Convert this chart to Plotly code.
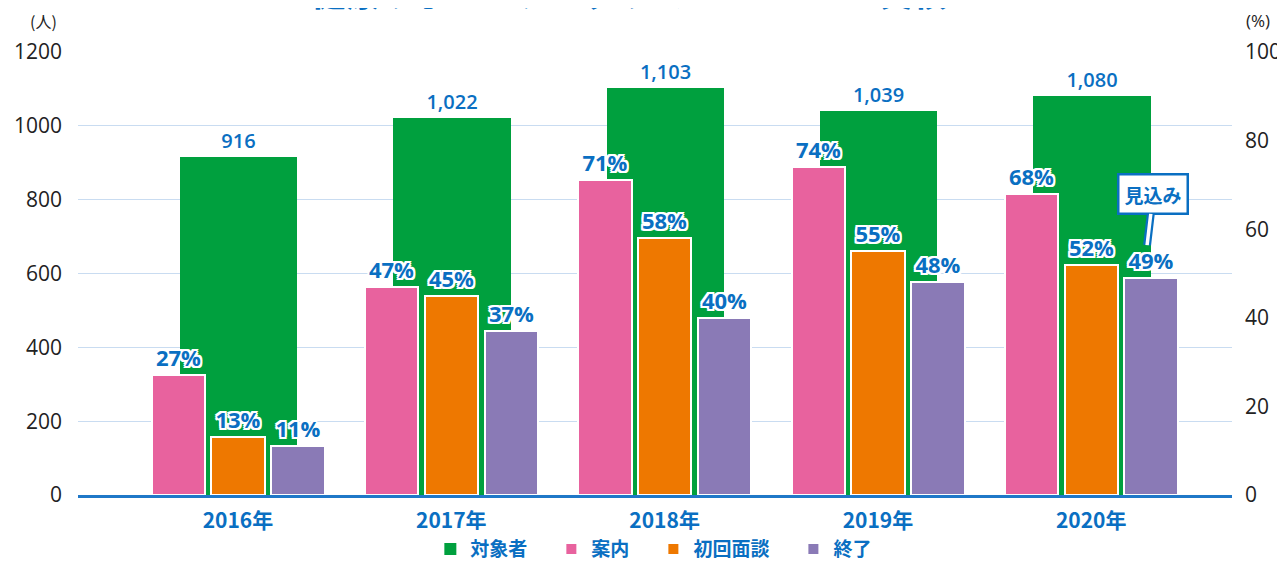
import plotly.graph_objects as go

years = ["2016年", "2017年", "2018年", "2019年", "2020年"]
targets = [916, 1022, 1103, 1039, 1080]          # 対象者 (人)
guide_pct = [27, 47, 71, 74, 68]                 # 案内 (%)
first_pct = [13, 45, 58, 55, 52]                 # 初回面談 (%)
finish_pct = [11, 37, 40, 48, 49]                # 終了 (%)
left_ticks = [0, 200, 400, 600, 800, 1000, 1200]
right_ticks = [0, 20, 40, 60, 80, 100]

xpos = list(range(len(years)))

BLUE = "#0a6fc2"
GREEN = "#00a03e"
PINK = "#e8629e"
ORANGE = "#ee7800"
PURPLE = "#8a7ab6"
JP = "Noto Sans CJK JP, Open Sans, sans-serif"
OUT = ("2px 0 0 #fff, -2px 0 0 #fff, 0 2px 0 #fff, 0 -2px 0 #fff, "
       "2px 2px 0 #fff, -2px -2px 0 #fff, 2px -2px 0 #fff, -2px 2px 0 #fff")

fig = go.Figure()

fig.add_trace(go.Bar(
    x=xpos, y=targets, name="対象者　", yaxis="y",
    width=0.55, offset=-0.272,
    marker=dict(color=GREEN, line=dict(width=0)),
    texttemplate="%{y:,}", textposition="outside", cliponaxis=False,
    textfont=dict(color=BLUE, size=20, family="Open Sans, " + JP, weight=600),
))

small = [("案内　", guide_pct, PINK, -0.404),
         ("初回面談　", first_pct, ORANGE, -0.125),
         ("終了", finish_pct, PURPLE, 0.156)]
for name, vals, col, off in small:
    fig.add_trace(go.Bar(
        x=xpos, y=vals, name=name, yaxis="y2",
        width=0.25, offset=off,
        marker=dict(color=col, line=dict(color="white", width=2)),
        texttemplate="%{y}%", textposition="outside", cliponaxis=False,
        textfont=dict(color=BLUE, size=22, family="Open Sans, " + JP, weight=700,
                      shadow=OUT),
    ))

fig.update_layout(
    width=1277, height=554,
    margin=dict(l=70, r=53, t=44, b=67, autoexpand=False),
    paper_bgcolor="white", plot_bgcolor="white",
    barmode="overlay",
    bargap=0,
    font=dict(family="Open Sans, " + JP, color="#222"),
    xaxis=dict(
        tickmode="array", tickvals=xpos, ticktext=years,
        range=[-0.75, 4.66],
        showline=True, linecolor="#1f78c8", linewidth=3,
        showgrid=False, ticks="", ticklabelstandoff=5,
        tickfont=dict(color=BLUE, size=21, family=JP, weight=600),
    ),
    yaxis=dict(
        range=[0, 1200], tickvals=left_ticks,
        showgrid=True, gridcolor="#c9dcf1", gridwidth=1,
        zeroline=False, showline=False, ticks="",
        ticklabelstandoff=15,
        tickfont=dict(size=21, color="#222", family="Open Sans"),
    ),
    yaxis2=dict(
        range=[0, 100], tickvals=right_ticks, overlaying="y", side="right",
        showgrid=False, zeroline=False, showline=False, ticks="",
        ticklabelstandoff=12,
        tickfont=dict(size=21, color="#222", family="Open Sans"),
    ),
    legend=dict(
        orientation="h", x=0.499, xanchor="center", y=-0.122, yanchor="middle",
        font=dict(color=BLUE, size=19, family=JP, weight=700),
        itemwidth=30, traceorder="normal",
    ),
    showlegend=True,
)

fig.add_annotation(
    text="健康サポートプログラム 2016-2020 実績", xref="paper", yref="paper",
    x=0.478, y=1.077, xanchor="center", yanchor="bottom", showarrow=False,
    font=dict(size=34, color=BLUE, family=JP, weight=900),
)
fig.add_annotation(text="(人)", xref="paper", yref="paper", x=-0.017, y=1.0993,
                   xanchor="right", yanchor="top", showarrow=False, borderpad=0,
                   font=dict(size=16, color="#222", family=JP))
fig.add_annotation(text="(%)", xref="paper", yref="paper", x=1.0225, y=1.0993,
                   xanchor="center", yanchor="top", showarrow=False, borderpad=0,
                   font=dict(size=17, color="#222", family="Open Sans"))
# callout "見込み": blue outer tail, then white inner tail with the box on top
for acol, aw in [(BLUE, 8), ("white", 3.5)]:
    fig.add_annotation(
        text="見込み", xref="x", yref="y2", x=4.262, y=56.4, ax=6, ay=-51,
        showarrow=True, arrowhead=0, arrowwidth=aw, arrowcolor=acol,
        bordercolor=BLUE, borderwidth=2.5, borderpad=5, bgcolor="white",
        font=dict(size=19, color=BLUE, family=JP, weight=700),
    )

fig.write_html("out.html")
